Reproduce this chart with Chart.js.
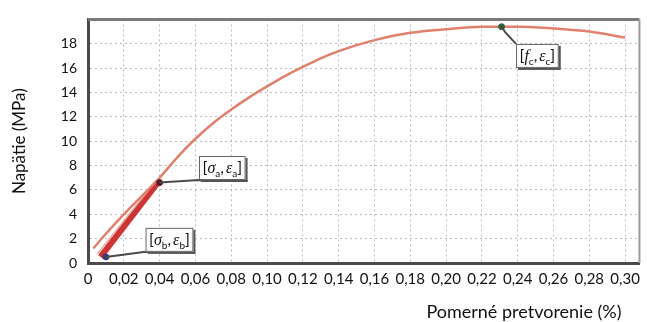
<!DOCTYPE html>
<html>
<head>
<meta charset="utf-8">
<script src="https://cdn.jsdelivr.net/npm/chart.js@4"></script>
<style>
  html, body { margin: 0; padding: 0; background: #fff; }
  #wrap { width: 647px; height: 322px; position: relative; }
</style>
</head>
<body>
<div id="wrap"><canvas id="chart" width="647" height="322"></canvas></div>
<script>
// Hlavná krivka (pretvorenie %, napätie MPa)
const strain = [0.003, 0.01, 0.02, 0.03, 0.04, 0.05, 0.06, 0.07, 0.08, 0.09, 0.10, 0.11, 0.12, 0.13, 0.14, 0.16, 0.18, 0.20, 0.22, 0.24, 0.26, 0.28, 0.30];
const stress = [1.2, 2.4, 4.0, 5.5, 7.0, 8.7, 10.2, 11.5, 12.6, 13.6, 14.5, 15.35, 16.1, 16.8, 17.4, 18.3, 18.9, 19.2, 19.4, 19.4, 19.25, 19.0, 18.5];

// Cyklické zaťažovanie (hrubý pás a svetlá vetva)
const cycleStrain = [0.007, 0.039];
const cycleStress = [0.5, 6.6];
const reloadStrain = [0.0052, 0.0382];
const reloadStress = [0.75, 6.8];

// Charakteristické body
const pointNames = ['a', 'b', 'c'];
const pointStrain = [0.040, 0.010, 0.231];
const pointStress = [6.6, 0.5, 19.4];
const pointColors = ['#5a1a2a', '#3a3a7a', '#2f5f3f'];

// Popisky bodov: stred boxu v jednotkách osí
const labelMain = ['σ', 'σ', 'f'];
const labelSub = ['a', 'b', 'c'];
const labelStrain = [0.075, 0.0455, 0.251];
const labelStress = [7.8, 1.9, 17.0];
const labelCorner = ['bl', 'bl', 'tl'];

const xTicksMax = 0.30;
const xMax = 0.308;
const yMax = 20;
const yStep = 2;
const xStep = 0.02;

const xTitle = 'Pomerné pretvorenie (%)';
const yTitle = 'Napätie (MPa)';

function fmt(v) {
    if (Math.abs(v) < 1e-9) return '0';
    return v.toFixed(2).replace('.', ',');
}

const frameAndLabels = {
    id: 'frameAndLabels',
    afterDraw(chart) {
        const ctx = chart.ctx;
        const a = chart.chartArea;
        const xs = chart.scales.x, ys = chart.scales.y;

        // horny a pravy okraj
        ctx.save();
        ctx.strokeStyle = '#7a7a7a';
        ctx.lineWidth = 3;
        ctx.beginPath();
        ctx.moveTo(a.left, a.top);
        ctx.lineTo(a.right, a.top);
        ctx.stroke();
        ctx.strokeStyle = '#9a9a9a';
        ctx.lineWidth = 2;
        ctx.beginPath();
        ctx.moveTo(a.right, a.top);
        ctx.lineTo(a.right, a.bottom);
        ctx.stroke();
        ctx.restore();

        // popisky bodov
        pointNames.forEach(function(n, i) {
            const px = xs.getPixelForValue(pointStrain[i]);
            const py = ys.getPixelForValue(pointStress[i]);
            const cx = xs.getPixelForValue(labelStrain[i]);
            const cy = ys.getPixelForValue(labelStress[i]);

            ctx.save();
            const greek = 'italic 16px "Liberation Serif"';
            const sans = '16px Lato';
            const sub = '10px Lato';
            const parts = [
                [sans, '[', 0], [greek, labelMain[i], 0], [sub, labelSub[i], 4],
                [sans, ',\u2009', 0], [greek, 'ε', 0], [sub, labelSub[i], 4], [sans, ']', 0]
            ];
            let w = 0;
            parts.forEach(function(p) { ctx.font = p[0]; w += ctx.measureText(p[1]).width; });
            const bw = w + 7, bh = 24;
            const bx = cx - bw / 2, by = cy - bh / 2;

            // vodiaca ciara
            const tx = bx;
            const ty = labelCorner[i] === 'tl' ? by : by + bh;
            ctx.strokeStyle = '#4a4a4a';
            ctx.lineWidth = 2;
            ctx.beginPath();
            ctx.moveTo(px, py);
            if (labelCorner[i] === 'tl') {
                ctx.lineTo(px + 4, py + 6);
            }
            ctx.lineTo(tx, ty);
            if (labelCorner[i] === 'bl') ctx.lineTo(bx + bw + 2, ty + 1);
            ctx.stroke();

            // box s tienom
            ctx.fillStyle = '#555';
            ctx.fillRect(bx + 2, by + 2, bw, bh);
            ctx.fillStyle = '#fff';
            ctx.fillRect(bx, by, bw, bh);
            ctx.strokeStyle = '#666';
            ctx.lineWidth = 1;
            ctx.strokeRect(bx + 0.5, by + 0.5, bw - 1, bh - 1);

            let x = bx + 3.5;
            const base = cy + 5;
            ctx.fillStyle = '#111';
            ctx.textBaseline = 'alphabetic';
            parts.forEach(function(p) {
                ctx.font = p[0];
                ctx.fillText(p[1], x, base + p[2]);
                x += ctx.measureText(p[1]).width;
            });
            ctx.restore();
        });

        // nazov osi x
        ctx.save();
        ctx.font = '18px Lato';
        ctx.fillStyle = '#111';
        ctx.textAlign = 'center';
        ctx.textBaseline = 'middle';
        ctx.fillText(xTitle, 524, 312);
        ctx.restore();
    }
};

const ctx = document.getElementById('chart');
new Chart(ctx, {
    type: 'scatter',
    data: {
        datasets: [
            {
                label: 'cykly',
                data: cycleStrain.map((x, i) => ({ x: x, y: cycleStress[i] })),
                showLine: true,
                borderColor: 'rgba(200, 30, 30, 0.9)',
                borderWidth: 6,
                pointRadius: 0,
                order: 3
            },
            {
                label: 'odlahcenie',
                data: reloadStrain.map((x, i) => ({ x: x, y: reloadStress[i] })),
                showLine: true,
                borderColor: '#eba79c',
                borderWidth: 1.5,
                pointRadius: 0,
                order: 2
            },
            {
                label: 'krivka',
                data: strain.map((x, i) => ({ x: x, y: stress[i] })),
                showLine: true,
                borderColor: '#e0806e',
                borderWidth: 2.5,
                pointRadius: 0,
                cubicInterpolationMode: 'monotone',
                order: 1
            },
            {
                label: 'body',
                data: pointStrain.map((x, i) => ({ x: x, y: pointStress[i] })),
                pointBackgroundColor: pointColors,
                pointBorderColor: pointColors,
                pointRadius: 3,
                order: 0
            }
        ]
    },
    options: {
        responsive: false,
        animation: false,
        events: [],
        layout: { padding: { left: 0, right: 4, top: 13, bottom: 0 } },
        plugins: {
            legend: { display: false },
            tooltip: { enabled: false }
        },
        scales: {
            x: {
                type: 'linear',
                min: 0,
                max: xMax,
                afterFit: function(s) { s.height = 59; },
                grid: {
                    color: '#bcbcbc',
                    lineWidth: 1,
                    borderDash: [2, 3],
                    drawTicks: false
                },
                border: { display: true, color: '#4a4a4a', width: 3, dash: [2, 3] },
                ticks: {
                    stepSize: xStep,
                    includeBounds: false,
                    padding: 7,
                    color: '#111',
                    font: { family: 'Lato', size: 15 },
                    maxRotation: 0,
                    autoSkip: false,
                    callback: function(v) { return v > xTicksMax + 1e-6 ? '' : fmt(v); }
                }
            },
            y: {
                type: 'linear',
                min: 0,
                max: yMax,
                afterFit: function(s) { s.width = 88; },
                grid: {
                    color: '#bcbcbc',
                    lineWidth: 1,
                    borderDash: [2, 3],
                    drawTicks: false
                },
                border: { display: true, color: '#4a4a4a', width: 3, dash: [2, 3] },
                title: {
                    display: true,
                    text: yTitle,
                    color: '#111',
                    font: { family: 'Lato', size: 17 },
                    padding: { top: 9, bottom: 0 }
                },
                ticks: {
                    stepSize: yStep,
                    padding: 11,
                    color: '#111',
                    font: { family: 'Lato', size: 14 },
                    callback: function(v) { return v >= yMax ? '' : String(v); }
                }
            }
        }
    },
    plugins: [frameAndLabels]
});
</script>
</body>
</html>
